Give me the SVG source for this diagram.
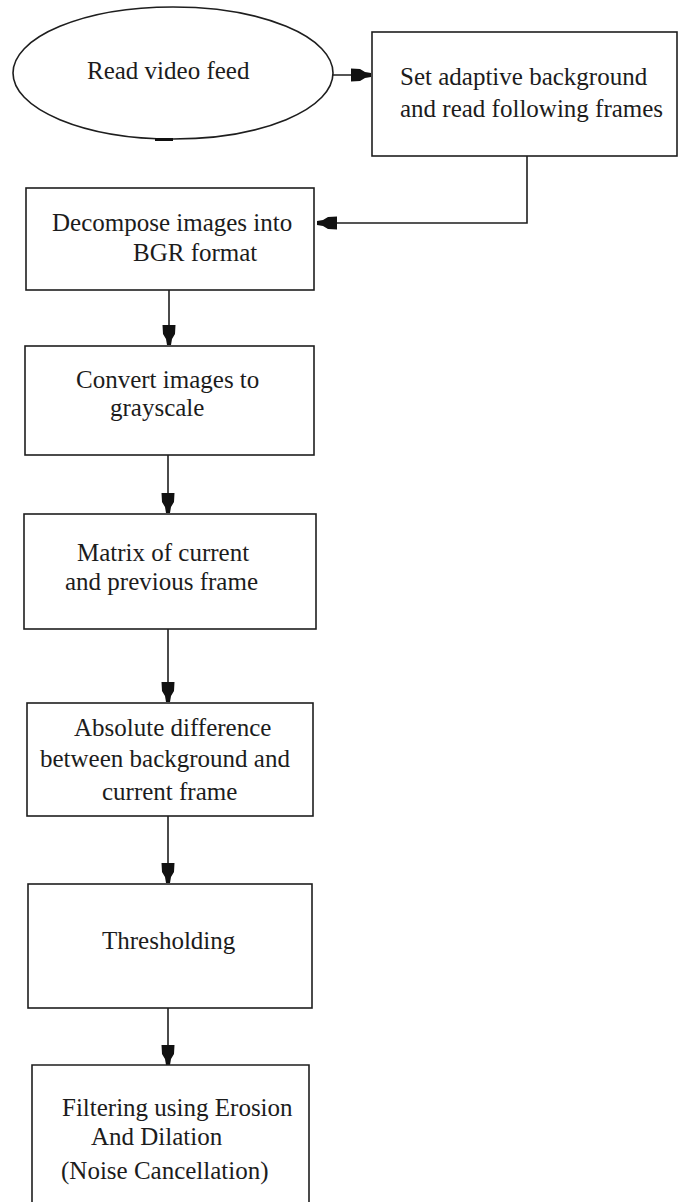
<svg xmlns="http://www.w3.org/2000/svg" width="678" height="1202" viewBox="0 0 678 1202">
<style>
.shape{fill:#fff;stroke:#1e1e1e;stroke-width:1.6}
.conn{fill:none;stroke:#1e1e1e;stroke-width:1.6}
text{font-family:"Liberation Serif","Times New Roman",serif;font-size:25px;fill:#1c1c1c}
</style>
<defs>
<marker id="ah" markerUnits="userSpaceOnUse" markerWidth="22" markerHeight="16" viewBox="0 -8 22 16" refX="20" refY="0" orient="auto">
<path d="M0,-6.5 L9,-6 L14,-3 L20,-2 L20,2 L14,3 L9,6 L0,6.5 Z" fill="#111"/>
</marker>
</defs>
<rect width="678" height="1202" fill="#fff"/>
<g id="connectors">
<path class="conn" d="M333,75 H371" marker-end="url(#ah)"/>
<path class="conn" d="M527,156 V223 H317" marker-end="url(#ah)"/>
<path class="conn" d="M169,290 V345" marker-end="url(#ah)"/>
<path class="conn" d="M168,455 V513" marker-end="url(#ah)"/>
<path class="conn" d="M168,629 V702" marker-end="url(#ah)"/>
<path class="conn" d="M168,816 V883" marker-end="url(#ah)"/>
<path class="conn" d="M168,1008 V1065" marker-end="url(#ah)"/>
</g>
<g id="n1">
<ellipse class="shape" cx="173" cy="73" rx="160" ry="66"/>
<line x1="155" y1="139.5" x2="173" y2="139.5" stroke="#111" stroke-width="3"/>
<text x="87" y="79">Read video feed</text>
</g>
<g id="n2">
<rect class="shape" x="372" y="32" width="305" height="124"/>
<text x="400" y="85">Set adaptive background</text>
<text x="400" y="117">and read following frames</text>
</g>
<g id="n3">
<rect class="shape" x="26" y="188" width="288" height="102"/>
<text x="52" y="231">Decompose images into</text>
<text x="133" y="261">BGR format</text>
</g>
<g id="n4">
<rect class="shape" x="25" y="346" width="289" height="109"/>
<text x="76" y="388">Convert images to</text>
<text x="110" y="416">grayscale</text>
</g>
<g id="n5">
<rect class="shape" x="24" y="514" width="292" height="115"/>
<text x="77" y="561">Matrix of current</text>
<text x="65" y="590">and previous frame</text>
</g>
<g id="n6">
<rect class="shape" x="27" y="703" width="286" height="113"/>
<text x="74" y="736">Absolute difference</text>
<text x="40" y="767">between background and</text>
<text x="102" y="800">current frame</text>
</g>
<g id="n7">
<rect class="shape" x="28" y="884" width="284" height="124"/>
<text x="102" y="949">Thresholding</text>
</g>
<g id="n8">
<path class="shape" d="M32,1203 V1065 H309 V1203"/>
<text x="62" y="1116">Filtering using Erosion</text>
<text x="91" y="1145">And Dilation</text>
<text x="61" y="1179">(Noise Cancellation)</text>
</g>
</svg>
